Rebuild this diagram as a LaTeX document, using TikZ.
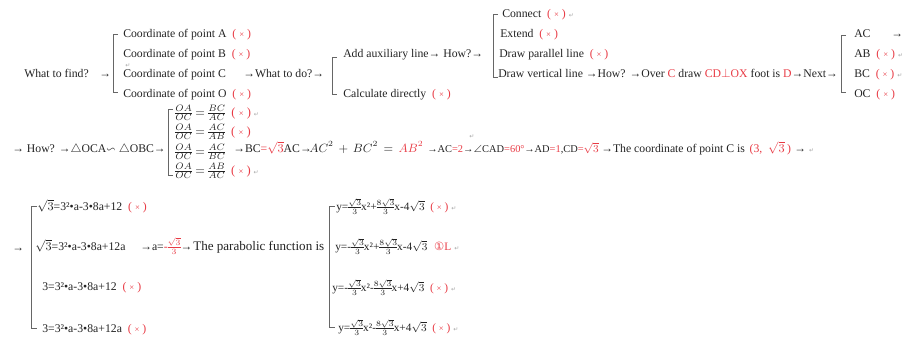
\documentclass[tikz,border=0pt]{standalone}
\usepackage{fontspec}
\usepackage{amssymb}
\setmainfont{Liberation Serif}
\newfontfamily\dejavu{DejaVu Sans}
\definecolor{xred}{RGB}{232,58,68}
\definecolor{ink}{RGB}{35,35,35}
\newcommand\XX{{\color{xred}\hspace{0.5em}(\hspace{0.25em}{\fontsize{6.5}{7}\selectfont ×}\hspace{0.25em})}}
\newcommand\ret{{\dejavu\fontsize{4.5}{5}\selectfont\color{black!35}\hspace{0.5em}↵}}
\newcommand\R[1]{{\color{xred}#1}}
\tikzset{
  t/.style={anchor=base west, inner sep=0pt, text=ink, font=\fontsize{8.8}{10}\selectfont},
  ts/.style={t, font=\fontsize{7.8}{10}\selectfont},
  ty/.style={t, font=\fontsize{8.5}{10}\selectfont},
  fr/.style={anchor=west, inner sep=0pt, text=ink, font=\fontsize{9.4}{10}\selectfont},
  brk/.style={draw=black!60, line width=0.6pt},
}
\begin{document}
\nulldelimiterspace=0pt
\begin{tikzpicture}[x=0.75pt,y=-0.75pt]
\useasboundingbox (0,0) rectangle (908,337);
% ---------- row 1 ----------
\node[t] (q1) at (24,77) {What to find?};
\node[t] (a1) at (99,77) {→};
\draw[brk] (118,34) -- (113,34) -- (113,92) -- (118,92);
\node[t] (cA) at (123,37) {Coordinate of point A\XX};
\node[t] (cB) at (123,57) {Coordinate of point B\XX};
\node[t] (cC) at (123,77) {Coordinate of point C};
\node[t] (mk1) at (122,67) {\ret};
\node[t] (cO) at (123,97) {Coordinate of point O\XX};
\node[t] (wd) at (243,77) {→What to do?→};
\draw[brk] (337,57) -- (332,57) -- (332,94) -- (337,94);
\node[t] (aux) at (343,57) {Add auxiliary line→ How?→};
\node[t] (calc) at (343,97) {Calculate directly\XX};
\draw[brk] (498,14) -- (493,14) -- (493,77) -- (498,77);
\node[t] (con) at (502,17) {Connect\XX\ret};
\node[t] (ext) at (500,37) {Extend\XX};
\node[t] (par) at (499,57) {Draw parallel line\XX};
\node[t] (ver) at (498,77) {Draw vertical line →How? →Over \R{C} draw \R{CD$\perp$OX} foot is \R{D}→Next→};
\draw[brk] (846,35) -- (841,35) -- (841,92) -- (846,92);
\node[t] (ac) at (854,37) {AC};
\node[t] (acA) at (891,37) {→};
\node[t] (ab) at (854,57) {AB\XX\ret};
\node[t] (bc1) at (854,77) {BC\XX\ret};
\node[t] (oc) at (854,97) {OC\XX};
% ---------- row 2 ----------
\node[t] (how) at (12,152) {→ How? →$\triangle$OCA$\backsim\triangle$OBC→};
\draw[brk] (173,109) -- (168,109) -- (168,175) -- (173,175);
\node[fr] (f1) at (175,113) {$\frac{OA}{OC}=\frac{BC}{AC}$\XX\ret};
\node[fr] (f2) at (175,132) {$\frac{OA}{OC}=\frac{AC}{AB}$\XX};
\node[fr] (f3) at (175,152) {$\frac{OA}{OC}=\frac{AC}{BC}$};
\node[fr] (f4) at (175,171) {$\frac{OA}{OC}=\frac{AB}{AC}$\XX\ret};
\node[t] (s1) at (233,152) {→BC\R{=$\sqrt{3}$}AC→};
\node[t, font=\fontsize{9.2}{10}\selectfont] (s2) at (309,152) {$AC^2\,+\,BC^2\,=\,\R{AB^2}$};
\node[ts] (s3) at (427,152) {→AC\R{=2}→$\angle$CAD\R{=60°}};
\node[ts] (s5) at (524,152) {→AD\R{=1},CD\R{=$\sqrt{3}$}};
\node[t] (mk2) at (466,138) {\ret};
\node[t] (coord) at (601,152) {→The coordinate of point C is\R{\hspace{0.4em}(3,\hspace{0.5em}$\sqrt{3}$\hspace{0.2em})}\hspace{0.3em}→\ret};
% ---------- row 3 ----------
\node[t] (a3) at (12,251) {→};
\draw[brk] (37,206) -- (31,206) -- (31,328) -- (37,328);
\node[t] (e1) at (37,210) {$\sqrt{3}$=3²•a-3•8a+12\XX};
\node[t] (e2) at (35,250) {$\sqrt{3}$=3²•a-3•8a+12a};
\node[t] (e3) at (42,290) {3=3²•a-3•8a+12\XX};
\node[t] (e4) at (42,332) {3=3²•a-3•8a+12a\XX};
\node[t] (asol) at (140,250) {→a=\R{-$\frac{\sqrt{3}}{3}$}→};
\node[t, font=\fontsize{9.8}{11}\selectfont] (pf) at (193,250) {The parabolic function is};
\draw[brk] (335,206) -- (329,206) -- (329,327) -- (335,327);
\node[ty] (y1) at (336,210) {y=$\frac{\sqrt{3}}{3}$x²+$\frac{8\sqrt{3}}{3}$x-4$\sqrt{3}$\XX\ret};
\node[ty] (y2) at (335,250) {y=-$\frac{\sqrt{3}}{3}$x²+$\frac{8\sqrt{3}}{3}$x-4$\sqrt{3}$\R{\hspace{0.6em}{\dejavu ①}L}\ret};
\node[ty] (y3) at (332,291) {y=-$\frac{\sqrt{3}}{3}$x²-$\frac{8\sqrt{3}}{3}$x+4$\sqrt{3}$\XX\ret};
\node[ty] (y4) at (338,331) {y=$\frac{\sqrt{3}}{3}$x²-$\frac{8\sqrt{3}}{3}$x+4$\sqrt{3}$\XX\ret};
\end{tikzpicture}
\end{document}
